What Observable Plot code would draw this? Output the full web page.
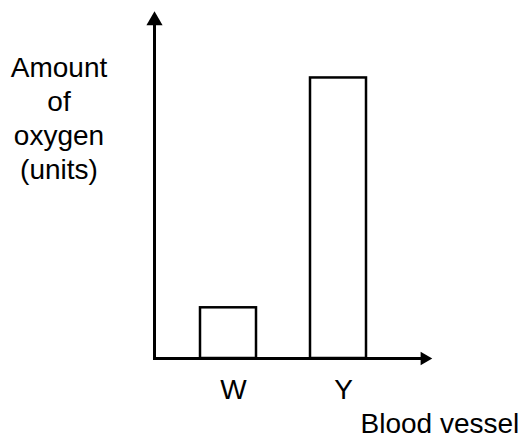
<!DOCTYPE html>
<html>
<head>
<meta charset="utf-8">
<script src="https://cdn.jsdelivr.net/npm/d3@7"></script>
<script src="https://cdn.jsdelivr.net/npm/@observablehq/plot@0.6"></script>
<style>
  html, body { margin: 0; padding: 0; background: white; }
</style>
</head>
<body>
<div id="chart"></div>
<script>
const categories = ["W", "Y"];
const amounts = [1.5, 8.3];
const yLabel = "Amount\nof\noxygen\n(units)";
const xLabel = "Blood vessel";

const data = categories.map((c, i) => ({vessel: c, amount: amounts[i]}));

const chart = Plot.plot({
  width: 521,
  height: 441,
  marginLeft: 154,
  marginRight: 97,
  marginTop: 20,
  marginBottom: 83,
  style: {fontFamily: "'Liberation Sans', Arial, sans-serif", fontSize: "28px", background: "white", color: "black"},
  x: {domain: categories, paddingInner: 0.49, paddingOuter: 0.472, align: 0.438, axis: null},
  y: {domain: [0, 10], axis: null},
  marks: [
    Plot.barY(data, {x: "vessel", y: "amount", fill: "white", stroke: "black", strokeWidth: 2.5}),
    Plot.frame({anchor: "left", stroke: "black", strokeWidth: 3}),
    Plot.frame({anchor: "bottom", stroke: "black", strokeWidth: 3}),
    Plot.dot([0], {frameAnchor: "top-left", symbol: "triangle", r: 6, fill: "black", stroke: "none"}),
    Plot.dot([0], {frameAnchor: "bottom-right", symbol: "triangle", r: 5, rotate: 90, fill: "black", stroke: "none"}),
    Plot.axisX({tickSize: 0, tickPadding: 21, fontSize: 28, dx: 5, label: null}),
    Plot.text([xLabel], {text: d => d, frameAnchor: "bottom-right", textAnchor: "start", dx: -64, dy: 74, fontSize: 28}),
    Plot.text([yLabel], {text: d => d, frameAnchor: "top-left", textAnchor: "middle", lineAnchor: "top", lineHeight: 1.22, dx: -95.5, dy: 32, fontSize: 28})
  ]
});
document.getElementById("chart").appendChild(chart);
</script>
</body>
</html>
